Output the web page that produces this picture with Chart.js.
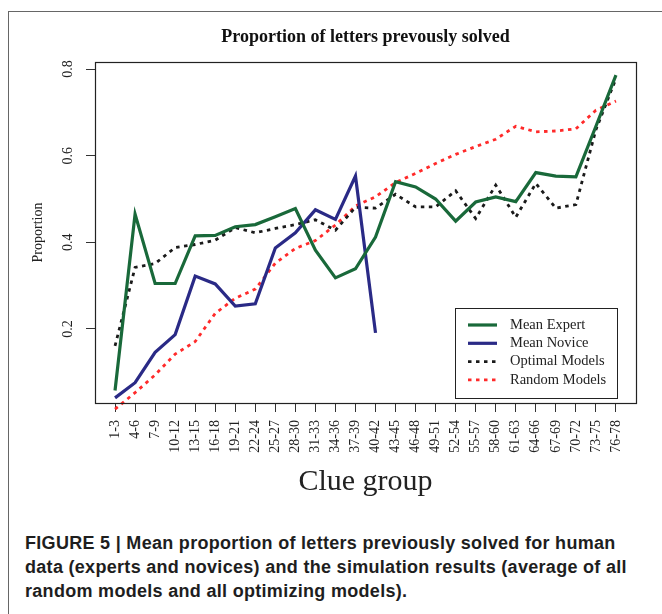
<!DOCTYPE html>
<html>
<head>
<meta charset="utf-8">
<script src="https://cdn.jsdelivr.net/npm/chart.js@4.4.1/dist/chart.umd.min.js"></script>
<style>
body{margin:0;background:#fff;width:662px;height:614px;overflow:hidden;position:relative}
#frame{position:absolute;left:8px;top:11px;width:700px;height:700px;border-left:1.5px solid #666;border-top:1.5px solid #666}
#wrap{position:absolute;left:0;top:0;width:662px;height:500px}
#caption{position:absolute;left:25px;top:531px;font:bold 18px "Liberation Sans",Arial,sans-serif;letter-spacing:0.3px;line-height:24px;color:#1e1e1e;white-space:nowrap}
</style>
</head>
<body>
<div id="frame"></div>
<div id="wrap"><canvas id="chart"></canvas></div>
<div id="caption">FIGURE 5 | Mean proportion of letters previously solved for human<br>data (experts and novices) and the simulation results (average of all<br>random models and all optimizing models).</div>
<script>
const clueGroups = ["1-3","4-6","7-9","10-12","13-15","16-18","19-21","22-24","25-27","28-30","31-33","34-36","37-39",
  "40-42","43-45","46-48","49-51","52-54","55-57","58-60","61-63","64-66","67-69","70-72","73-75","76-78"];
const meanExpert = [0.058,0.465,0.305,0.305,0.415,0.416,0.436,0.441,0.459,0.478,0.382,0.318,0.339,
  0.412,0.540,0.528,0.500,0.449,0.493,0.505,0.494,0.561,0.553,0.551,0.668,0.786];
const meanNovice = [0.041,0.076,0.146,0.187,0.322,0.304,0.253,0.258,0.387,0.422,0.475,0.453,0.553,0.191];
const optimalModels = [0.161,0.342,0.351,0.388,0.395,0.405,0.434,0.422,0.432,0.441,0.452,0.428,0.481,
  0.479,0.511,0.482,0.482,0.519,0.455,0.532,0.458,0.536,0.479,0.487,0.660,0.778];
const randomModels = [0.015,0.053,0.094,0.142,0.171,0.236,0.271,0.292,0.352,0.386,0.404,0.440,0.484,
  0.505,0.538,0.559,0.582,0.603,0.621,0.638,0.668,0.655,0.657,0.662,0.705,0.726];
const yTicks = [0.2,0.4,0.6,0.8];
const chartTitle = 'Proportion of letters prevously solved';

const serif = '"Liberation Serif", "Times New Roman", serif';

function toPoints(arr){
  return arr.map((v,i)=>({x:i,y:v}));
}

// box round the plot region + title centred over it
const boxPlugin = {
  id:'plotBox',
  afterDraw(chart){
    const {ctx, chartArea:a} = chart;
    ctx.save();
    ctx.strokeStyle='#222';
    ctx.lineWidth=1.2;
    ctx.strokeRect(Math.round(a.left)+0.5, Math.round(a.top)+0.5, Math.round(a.right-a.left), Math.round(a.bottom-a.top));
    ctx.fillStyle='#111';
    ctx.font='bold 18px '+serif;
    ctx.textAlign='center';
    ctx.textBaseline='middle';
    ctx.fillText(chartTitle,(a.left+a.right)/2,37);
    ctx.restore();
  }
};

const legendPlugin = {
  id:'refLegend',
  afterDraw(chart){
    const {ctx, chartArea:a} = chart;
    const w=162, h=90;
    const x0=Math.round(a.right-19-w), y0=Math.round(a.bottom-5-h);
    ctx.save();
    ctx.fillStyle='#fff';
    ctx.fillRect(x0,y0,w,h);
    ctx.strokeStyle='#222';
    ctx.lineWidth=1;
    ctx.strokeRect(x0+0.5,y0+0.5,w,h);
    ctx.font='14.5px '+serif;
    ctx.textBaseline='middle';
    chart.data.datasets.forEach((ds,i)=>{
      const y=y0+17+i*18.3;
      ctx.strokeStyle=ds.borderColor;
      ctx.lineWidth=ds.borderWidth;
      ctx.setLineDash(ds.borderDash||[]);
      ctx.beginPath();
      ctx.moveTo(x0+13,y);
      ctx.lineTo(x0+42,y);
      ctx.stroke();
      ctx.setLineDash([]);
      ctx.fillStyle='#222';
      ctx.fillText(ds.label,x0+55,y);
    });
    ctx.restore();
  }
};

new Chart(document.getElementById('chart'), {
  type:'line',
  data:{
    datasets:[
      {label:'Mean Expert', data:toPoints(meanExpert), borderColor:'#19693a', borderWidth:3.2},
      {label:'Mean Novice', data:toPoints(meanNovice), borderColor:'#2a2a86', borderWidth:3.2},
      {label:'Optimal Models', data:toPoints(optimalModels), borderColor:'#1a1a1a', borderWidth:2.8, borderDash:[3.5,4.5]},
      {label:'Random Models', data:toPoints(randomModels), borderColor:'#ff2a2a', borderWidth:2.8, borderDash:[3.5,4.5], clip:false}
    ]
  },
  options:{
    responsive:true,
    maintainAspectRatio:false,
    animation:false,
    layout:{padding:{left:0,right:26,top:62,bottom:0}},
    elements:{point:{radius:0}, line:{tension:0, fill:false}},
    plugins:{
      legend:{display:false},
      tooltip:{enabled:false},
      title:{display:false}
    },
    scales:{
      x:{
        type:'linear', min:-1, max:26,
        afterBuildTicks: s => { s.ticks = clueGroups.map((c,i)=>({value:i})); },
        afterFit: s => { s.height = 97; },
        ticks:{autoSkip:false, minRotation:90, maxRotation:90, padding:8, color:'#222',
          font:{family:serif, size:14}, callback: v => clueGroups[v]},
        grid:{drawOnChartArea:false, drawTicks:true, tickLength:9, color:'#333'},
        border:{display:false},
        title:{display:true, text:'Clue group', color:'#222', font:{family:serif, size:30}, padding:{top:0,bottom:0}}
      },
      y:{
        min:0.0292, max:0.8162,
        afterBuildTicks: s => { s.ticks = yTicks.map(v=>({value:v})); },
        afterFit: s => { s.width = 95; },
        ticks:{minRotation:90, maxRotation:90, crossAlign:'center', padding:9, color:'#222',
          font:{family:serif, size:14}, callback: v => v.toFixed(1)},
        grid:{drawOnChartArea:false, drawTicks:true, tickLength:9, color:'#333'},
        border:{display:false},
        title:{display:true, text:'Proportion', color:'#222', font:{family:serif, size:14}, padding:{top:30,bottom:0}}
      }
    }
  },
  plugins:[boxPlugin, legendPlugin]
});
</script>
</body>
</html>
